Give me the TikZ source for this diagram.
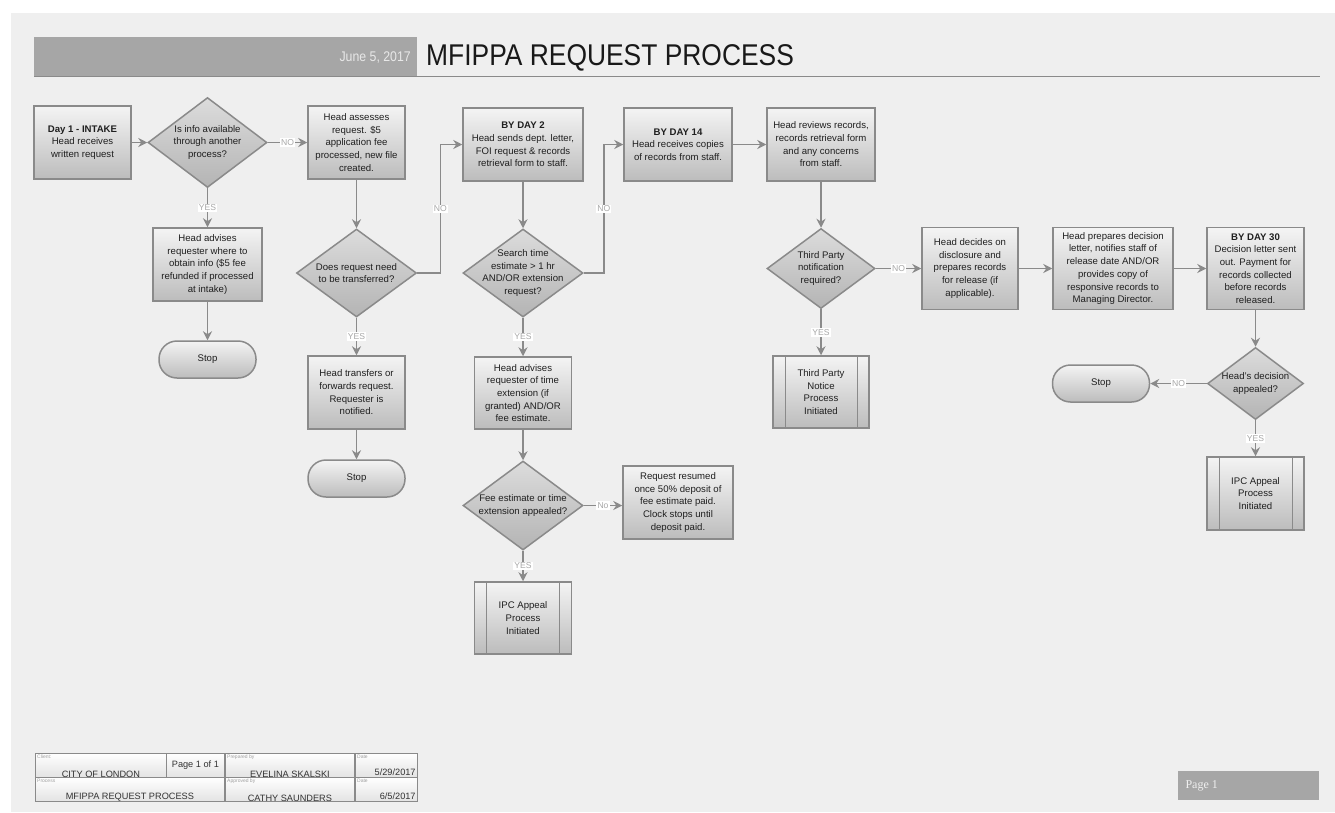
\documentclass[tikz,border=0pt]{standalone}
\usepackage{fontspec}
\setmainfont{Liberation Sans}
\newfontfamily\narrowfont[FakeStretch=0.88]{Liberation Sans}
\newfontfamily\pagefont{Liberation Serif}
\usetikzlibrary{shapes.geometric,arrows.meta}
\definecolor{pagebg}{HTML}{EFEFEF}
\definecolor{edgegray}{HTML}{8A8A8A}
\definecolor{bartone}{HTML}{A6A6A6}
\definecolor{boxtop}{HTML}{F4F4F4}
\definecolor{boxbot}{HTML}{BCBCBC}
\definecolor{dmdtop}{HTML}{DCDCDC}
\definecolor{dmdbot}{HTML}{B4B4B4}
\definecolor{tagtext}{HTML}{A8A8A8}
\tikzset{
  stepbox/.style={draw=edgegray, line width=1.5pt, top color=boxtop, bottom color=boxbot,
    align=center, text=black!88, inner sep=1pt, font=\fontsize{9.6}{12.7}\selectfont},
  decision/.style={stepbox, diamond, top color=dmdtop, bottom color=dmdbot,
    inner xsep=-20pt, inner ysep=-10pt},
  stopbox/.style={stepbox, rounded corners=18pt, minimum width=97pt, minimum height=37pt},
  subproc/.style={stepbox, path picture={
    \draw[edgegray, line width=1pt]
      ([xshift=12pt]path picture bounding box.north west) -- ([xshift=12pt]path picture bounding box.south west)
      ([xshift=-12pt]path picture bounding box.north east) -- ([xshift=-12pt]path picture bounding box.south east);}},
  flow/.style={draw=edgegray, line width=1.5pt, -{Stealth[length=9pt,width=9pt,inset=3pt]}},
  yn/.style={fill=white, text=tagtext, inner sep=1.2pt, font=\fontsize{8.6}{9}\selectfont},
  cell/.style={draw=edgegray, line width=0.8pt, top color=white, bottom color=gray!22,
    anchor=north west, inner sep=0pt},
  captext/.style={anchor=north west, inner sep=0.5pt, text=gray!75, font=\fontsize{5}{5.5}\selectfont},
  valtext/.style={inner sep=1pt, text=black!80, font=\fontsize{9.2}{10}\selectfont}
}
\begin{document}
\begin{tikzpicture}[x=1pt,y=-1pt]
  \useasboundingbox (0,0) rectangle (1335,812);
  \fill[white] (0,0) rectangle (1335,812);
  \fill[pagebg] (11,13) rectangle (1335,812);
  % header
  \fill[bartone] (34,37) rectangle (417,76);
  \draw[edgegray, line width=1.5pt] (34,76.5) -- (1320,76.5);
  \node[anchor=east, inner sep=0pt, text=gray!18, font=\narrowfont\fontsize{14}{14}\selectfont] (date) at (411,58) {June 5, 2017};
  \node[anchor=west, inner sep=0pt, text=black!90, font=\narrowfont\fontsize{30}{30}\selectfont] (title) at (426,58) {MFIPPA REQUEST PROCESS};

  % intake column
  \node[stepbox, minimum width=97pt, minimum height=73pt] (intake) at (82.5,142.5) {\textbf{Day 1 - INTAKE}\\Head receives\\written request};
  \node[decision, minimum width=119pt, minimum height=90pt] (info) at (207.5,142.5) {Is info available\\through another\\process?};
  \node[stepbox, minimum width=109pt, minimum height=73pt] (advise) at (207.5,264.5) {Head advises\\requester where to\\obtain info (\$5 fee\\refunded if processed\\at intake)};
  \node[stopbox] (stopA) at (207.5,359.5) {Stop};
  \node[stepbox, minimum width=97pt, minimum height=73pt] (assess) at (356.5,142.5) {Head assesses\\request. \$5\\application fee\\processed, new file\\created.};
  \node[decision, minimum width=120pt, minimum height=88pt] (xfer) at (356.5,273) {Does request need\\to be transferred?};
  \node[stepbox, minimum width=97pt, minimum height=73pt] (transfer) at (356.5,392.5) {Head transfers or\\forwards request.\\Requester is\\notified.};
  \node[stopbox] (stopB) at (356.5,478.5) {Stop};

  % day 2 column
  \node[stepbox, minimum width=120pt, minimum height=73pt] (day2) at (523,144.5) {\textbf{BY DAY 2}\\Head sends dept. letter,\\FOI request \& records\\retrieval form to staff.};
  \node[decision, minimum width=120pt, minimum height=88pt] (search) at (523,273) {Search time\\estimate > 1 hr\\AND/OR extension\\request?};
  \node[stepbox, minimum width=97pt, minimum height=72pt] (advtime) at (523,393) {Head advises\\requester of time\\extension (if\\granted) AND/OR\\fee estimate.};
  \node[decision, minimum width=120pt, minimum height=89pt] (fee) at (523,505.5) {Fee estimate or time\\extension appealed?};
  \node[stepbox, minimum width=110pt, minimum height=73pt] (resumed) at (678,502.5) {Request resumed\\once 50\% deposit of\\fee estimate paid.\\Clock stops until\\deposit paid.};
  \node[subproc, minimum width=97pt, minimum height=72pt] (ipcA) at (523,618) {IPC Appeal\\Process\\Initiated};

  % day 14 column
  \node[stepbox, minimum width=108pt, minimum height=73pt] (day14) at (678,144.5) {\textbf{BY DAY 14}\\Head receives copies\\of records from staff.};
  \node[stepbox, minimum width=108pt, minimum height=73pt] (review) at (821,144.5) {Head reviews records,\\records retrieval form\\and any concerns\\from staff.};
  \node[decision, minimum width=108pt, minimum height=80pt] (third) at (821,268.5) {Third Party\\notification\\required?};
  \node[subproc, minimum width=96pt, minimum height=72pt] (notice) at (821,392) {Third Party\\Notice\\Process\\Initiated};

  % decision row
  \node[stepbox, minimum width=96pt, minimum height=82pt] (decide) at (970,268.5) {Head decides on\\disclosure and\\prepares records\\for release (if\\applicable).};
  \node[stepbox, minimum width=120pt, minimum height=82pt] (prepare) at (1113,268.5) {Head prepares decision\\letter, notifies staff of\\release date AND/OR\\provides copy of\\responsive records to\\Managing Director.};
  \node[stepbox, minimum width=97pt, minimum height=82pt] (day30) at (1255.5,268.5) {\textbf{BY DAY 30}\\Decision letter sent\\out. Payment for\\records collected\\before records\\released.};
  \node[decision, minimum width=96pt, minimum height=72pt] (appeal) at (1255.5,383.5) {Head's decision\\appealed?};
  \node[stopbox] (stopC) at (1101,383.5) {Stop};
  \node[subproc, minimum width=97pt, minimum height=73pt] (ipcB) at (1255.5,493.5) {IPC Appeal\\Process\\Initiated};

  % connectors
  \draw[flow] (intake) -- (info);
  \draw[flow] (info) -- node[yn]{NO} (assess);
  \draw[flow] (info) -- node[yn]{YES} (advise);
  \draw[flow] (advise) -- (stopA);
  \draw[flow] (assess) -- (xfer);
  \draw[flow] (xfer) -- node[yn]{YES} (transfer);
  \draw[flow] (transfer) -- (stopB);
  \draw[flow] (xfer.east) -- ++(23,0) |- node[yn,pos=0.25]{NO} (day2.west);
  \draw[flow] (day2) -- (search);
  \draw[flow] (search.east) -- ++(20,0) |- node[yn,pos=0.25]{NO} (day14.west);
  \draw[flow] (search) -- node[yn]{YES} (advtime);
  \draw[flow] (advtime) -- (fee);
  \draw[flow] (fee.east) -- node[yn]{No} (fee.east -| resumed.west);
  \draw[flow] (fee) -- node[yn]{YES} (ipcA);
  \draw[flow] (day14) -- (review);
  \draw[flow] (review) -- (third);
  \draw[flow] (third) -- node[yn]{NO} (decide);
  \draw[flow] (third) -- node[yn]{YES} (notice);
  \draw[flow] (decide) -- (prepare);
  \draw[flow] (prepare) -- (day30);
  \draw[flow] (day30) -- (appeal);
  \draw[flow] (appeal) -- node[yn]{NO} (stopC);
  \draw[flow] (appeal) -- node[yn]{YES} (ipcB);

  % footer table
  \node[cell, minimum width=131pt, minimum height=24pt] (client) at (35,753) {};
  \node[cell, minimum width=58pt, minimum height=24pt] (pages) at (166,753) {};
  \node[cell, minimum width=129pt, minimum height=24pt] (prepby) at (225,753) {};
  \node[cell, minimum width=62pt, minimum height=24pt] (date1) at (355,753) {};
  \node[cell, minimum width=189pt, minimum height=24pt] (proc) at (35,777) {};
  \node[cell, minimum width=129pt, minimum height=24pt] (apprby) at (225,777) {};
  \node[cell, minimum width=62pt, minimum height=24pt] (date2) at (355,777) {};
  \node[captext] (clientcap) at ([shift={(1.5,1.5)}]client.north west) {Client:};
  \node[captext] (prepcap) at ([shift={(1.5,1.5)}]prepby.north west) {Prepared by};
  \node[captext] (date1cap) at ([shift={(1.5,1.5)}]date1.north west) {Date};
  \node[captext] (proccap) at ([shift={(1.5,1.5)}]proc.north west) {Process};
  \node[captext] (apprcap) at ([shift={(1.5,1.5)}]apprby.north west) {Approved by};
  \node[captext] (date2cap) at ([shift={(1.5,1.5)}]date2.north west) {Date};
  \node[valtext, anchor=south] (clientval) at ([yshift=-1pt]client.south) {CITY OF LONDON};
  \node[valtext] (pagesval) at (pages) {Page 1 of 1};
  \node[valtext, anchor=south] (prepval) at ([yshift=-1pt]prepby.south) {EVELINA SKALSKI};
  \node[valtext, anchor=south east] (date1val) at ([shift={(-1,-1)}]date1.south east) {5/29/2017};
  \node[valtext, anchor=south] (procval) at ([yshift=-1pt]proc.south) {MFIPPA REQUEST PROCESS};
  \node[valtext, anchor=south] (apprval) at ([yshift=-1pt]apprby.south) {CATHY SAUNDERS};
  \node[valtext, anchor=south east] (date2val) at ([shift={(-1,-1)}]date2.south east) {6/5/2017};

  % page tag
  \node[fill=bartone, anchor=north west, inner sep=0pt, minimum width=141pt, minimum height=29pt] (pagetag) at (1178,771) {};
  \node[anchor=west, text=gray!12, font=\pagefont\fontsize{12}{12}\selectfont] (pagetext) at ([xshift=4pt]pagetag.west) {Page 1};
\end{tikzpicture}
\end{document}
